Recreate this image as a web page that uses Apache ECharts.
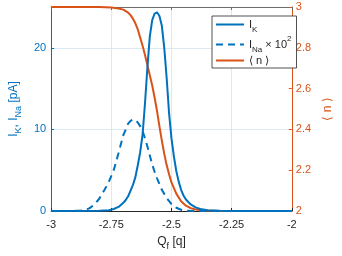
<!DOCTYPE html>
<html>
<head>
<meta charset="utf-8">
<script src="https://cdn.jsdelivr.net/npm/echarts@6/dist/echarts.min.js"></script>
<style>
html,body{margin:0;padding:0;background:#fff;}
#c{width:342px;height:256px;}
</style>
</head>
<body>
<div id="c"></div>
<script>
// ---- data ----
const xTicks = [-3, -2.75, -2.5, -2.25, -2];
const kX = [-3.00,-2.80,-2.76,-2.74,-2.72,-2.70,-2.69,-2.68,-2.67,-2.66,-2.65,-2.64,-2.63,-2.62,-2.61,-2.60,-2.59,-2.58,-2.57,-2.56,-2.55,-2.54,-2.53,-2.52,-2.51,-2.50,-2.49,-2.48,-2.47,-2.46,-2.45,-2.44,-2.42,-2.40,-2.38,-2.35,-2.30,-2.20,-2.00];
const kY = [0,0.02,0.1,0.25,0.5,1.0,1.35,1.8,2.5,3.2,4.15,5.6,7.2,9.4,13.2,17.6,21.4,23.4,24.2,24.35,23.9,22.7,20.0,16.3,12.0,8.9,6.7,4.9,3.6,2.6,1.9,1.4,0.8,0.45,0.25,0.1,0.03,0,0];
const naX = [-3.00,-2.88,-2.86,-2.84,-2.82,-2.80,-2.78,-2.76,-2.74,-2.72,-2.70,-2.68,-2.67,-2.66,-2.65,-2.64,-2.63,-2.62,-2.61,-2.60,-2.59,-2.58,-2.57,-2.56,-2.55,-2.54,-2.52,-2.50,-2.48,-2.46,-2.44,-2.40,-2.00];
const naY = [0,0.02,0.1,0.35,0.8,1.5,2.5,3.6,5.0,7.1,9.3,10.7,11.05,11.2,11.15,10.85,10.4,9.8,8.9,7.9,6.8,5.7,4.8,4.0,3.3,2.6,1.6,0.85,0.4,0.15,0.05,0,0];
const nX = [-3.00,-2.80,-2.75,-2.72,-2.70,-2.68,-2.67,-2.66,-2.65,-2.64,-2.63,-2.62,-2.61,-2.60,-2.59,-2.58,-2.57,-2.56,-2.55,-2.54,-2.53,-2.52,-2.51,-2.50,-2.48,-2.46,-2.44,-2.42,-2.40,-2.36,-2.30,-2.00];
const nY = [3,3,2.997,2.993,2.987,2.972,2.96,2.942,2.92,2.89,2.85,2.81,2.765,2.715,2.665,2.615,2.555,2.49,2.415,2.345,2.28,2.225,2.18,2.14,2.085,2.048,2.026,2.014,2.007,2.002,2,2];

const BLUE = '#0072BD', ORANGE = '#D95319', DARK = '#262626';
const FONT = '"Liberation Sans", Arial, Helvetica, sans-serif';

function pairs(xs, ys){ return xs.map((x,i)=>[x, ys[i]]); }

const richBase = {
  m: {fontSize: 12, lineHeight: 18, verticalAlign: 'middle', fontFamily: FONT},
  s: {fontSize: 9, lineHeight: 11, verticalAlign: 'bottom', fontFamily: FONT},
  p: {fontSize: 9, lineHeight: 11, verticalAlign: 'top', fontFamily: FONT}
};
function richColored(c, size){
  const r = {};
  for (const k in richBase) r[k] = Object.assign({}, richBase[k], {color: c});
  if (size) { r.m.fontSize = size; }
  return r;
}

const chart = echarts.init(document.getElementById('c'), null, {renderer: 'canvas'});
chart.setOption({
  animation: false,
  backgroundColor: '#fff',
  textStyle: {fontFamily: FONT},
  grid: {left: 44, right: 42, top: 7, bottom: 44, containLabel: false},
  legend: {
    orient: 'vertical',
    left: 212, top: 16,
    itemWidth: 28, itemHeight: 10, itemGap: 1,
    padding: [3, 5, 2, 3],
    borderColor: DARK, borderWidth: 0.8,
    backgroundColor: '#fff',
    itemStyle: {opacity: 0, borderWidth: 0},
    data: ['IK', 'INa', 'n'],
    textStyle: {color: DARK, fontSize: 11, rich: {
      m: {fontSize: 11, lineHeight: 19, verticalAlign: 'middle', color: DARK, fontFamily: FONT},
      s: {fontSize: 8, lineHeight: 10, verticalAlign: 'bottom', color: DARK, fontFamily: FONT},
      p: {fontSize: 8, lineHeight: 10, verticalAlign: 'top', color: DARK, fontFamily: FONT}
    }},
    formatter: function(name){
      if (name === 'IK') return '{m|I}{s|K}';
      if (name === 'INa') return '{m|I}{s|Na}{m| \u00d7 10}{p|2}';
      return '{m|\u27e8 n \u27e9}';
    }
  },
  xAxis: [{
    type: 'value', min: -3, max: -2, interval: 0.25,
    position: 'bottom',
    name: '{m|Q}{s|f}{m| [q]}', nameLocation: 'middle', nameGap: 22,
    nameTextStyle: {rich: richColored(DARK, 12)},
    axisLine: {show: true, onZero: false, lineStyle: {color: DARK, width: 1}},
    axisTick: {show: true, inside: true, length: 3, lineStyle: {color: DARK}},
    axisLabel: {color: DARK, fontSize: 11, margin: 8, fontFamily: FONT,
      formatter: v => String(v)},
    splitLine: {show: true, lineStyle: {color: '#e6e6e6', width: 1}}
  }, {
    type: 'value', min: -3, max: -2, interval: 0.25,
    position: 'top',
    axisLine: {show: true, onZero: false, lineStyle: {color: '#6e6e6e', width: 1}},
    axisTick: {show: true, inside: true, length: 3, lineStyle: {color: '#6e6e6e'}},
    axisLabel: {show: false},
    splitLine: {show: false}
  }],
  yAxis: [{
    type: 'value', min: 0, max: 25, interval: 10,
    position: 'left',
    name: '{m|I}{s|K}{m|, I}{s|Na}{m| [pA]}', nameLocation: 'middle', nameGap: 22,
    nameTextStyle: {rich: richColored(BLUE, 12)},
    axisLine: {show: true, onZero: false, lineStyle: {color: BLUE, width: 1}},
    axisTick: {show: true, inside: true, length: 3, lineStyle: {color: BLUE}},
    axisLabel: {color: BLUE, fontSize: 11, margin: 5, showMaxLabel: false, fontFamily: FONT},
    splitLine: {show: true, lineStyle: {color: '#dbe9f5', width: 1}}
  }, {
    type: 'value', min: 2, max: 3, interval: 0.2,
    position: 'right',
    name: '{m|\u27e8 n \u27e9}', nameLocation: 'middle', nameGap: 26,
    nameTextStyle: {rich: richColored(ORANGE, 12)},
    axisLine: {show: true, onZero: false, lineStyle: {color: ORANGE, width: 1}},
    axisTick: {show: true, inside: true, length: 3, lineStyle: {color: ORANGE}},
    axisLabel: {color: ORANGE, fontSize: 11, margin: 4, fontFamily: FONT,
      formatter: v => String(Math.round(v*10)/10)},
    splitLine: {show: false}
  }],
  series: [{
    name: 'IK', type: 'line', xAxisIndex: 0, yAxisIndex: 0,
    data: pairs(kX, kY), showSymbol: false, symbol: 'none', smooth: false,
    lineStyle: {color: BLUE, width: 2}, itemStyle: {color: BLUE}, z: 3
  }, {
    name: 'INa', type: 'line', xAxisIndex: 0, yAxisIndex: 0,
    data: pairs(naX, naY), showSymbol: false, symbol: 'none', smooth: false,
    lineStyle: {color: BLUE, width: 2, type: [7, 5]}, itemStyle: {color: BLUE}, z: 3
  }, {
    name: 'n', type: 'line', xAxisIndex: 0, yAxisIndex: 1,
    data: pairs(nX, nY), showSymbol: false, symbol: 'none', smooth: false,
    lineStyle: {color: ORANGE, width: 2}, itemStyle: {color: ORANGE}, z: 2
  }]
});
</script>
</body>
</html>
